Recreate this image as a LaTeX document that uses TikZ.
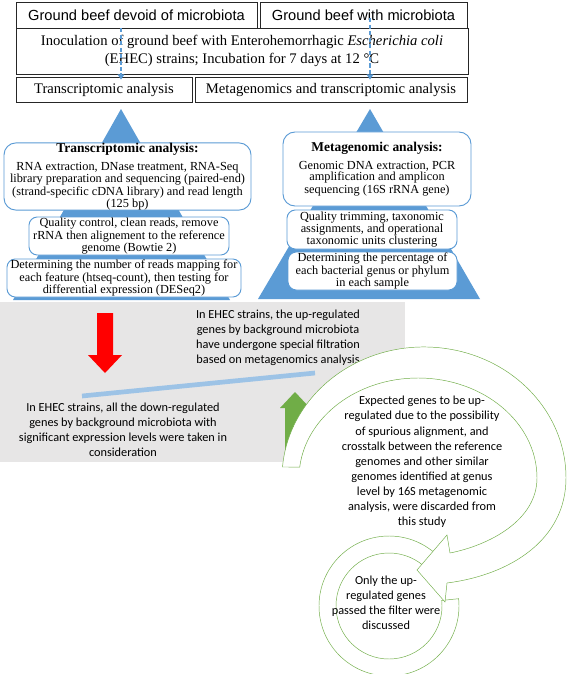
\documentclass[tikz,border=0pt]{standalone}
\usepackage{fontspec}
\setmainfont{Liberation Serif}
\newfontfamily\arialfont{Liberation Sans}
\newfontfamily\calibrifont{Carlito}
\usetikzlibrary{arrows.meta}
\definecolor{tri}{RGB}{91,155,213}
\definecolor{greybg}{RGB}{231,230,230}
\definecolor{barblue}{RGB}{157,195,230}
\definecolor{spiral}{RGB}{112,173,71}

\begin{document}
\begin{tikzpicture}[x=0.03cm, y=-0.03cm,
	topbox/.style={draw=black!85, line width=0.6pt, inner sep=0pt, minimum height=0.78cm, align=center, font=\fontsize{12.5}{15.4}\selectfont},
	rbox/.style={draw=tri, fill=white, thick, rounded corners=0.25cm, inner sep=0pt, align=center, font=\fontsize{10.5}{9.4}\selectfont},
	dasharrow/.style={tri, line width=1.2pt, dash pattern=on 3.5pt off 2pt, -{Triangle[width=5.5pt,length=4.5pt]}},
	calib/.style={align=center, font=\calibrifont\fontsize{10.5}{12.9}\selectfont}]
	\useasboundingbox (0,0) rectangle (567,674);
	\coordinate (apex1) at (121,109);
	\coordinate (apex2) at (370,109);
	\fill[tri] (apex1) -- (230,300) -- (13,300) -- cycle;
	\fill[tri] (apex2) -- (480,299) -- (258,299) -- cycle;
	\node[topbox, minimum width=7.23cm, font=\arialfont\fontsize{12.5}{14}\selectfont] (gb1) at (136.5,15) {Ground beef devoid of microbiota};
	\node[topbox, minimum width=6.21cm, font=\arialfont\fontsize{12.5}{14}\selectfont] (gb2) at (363.5,15) {Ground beef with microbiota};
	\node[topbox, minimum width=13.56cm, minimum height=1.38cm] (inoc) at (242,51) {Inoculation of ground beef with Enterohemorrhagic \textit{Escherichia coli}\\ (EHEC) strains; Incubation for 7 days at 12 °C};
	\node[topbox, minimum width=5.28cm, minimum height=0.75cm] (trans) at (104,89.5) {Transcriptomic analysis};
	\node[topbox, minimum width=8.16cm, minimum height=0.75cm] (meta) at (331,89.5) {Metagenomics and transcriptomic analysis};
	\draw[dasharrow] (gb1.south -| apex1) -- ([yshift=-0.09cm]trans.north -| apex1);
	\draw[dasharrow] ([yshift=0.3cm]gb2.south -| apex2) -- ([yshift=-0.09cm]meta.north -| apex2);
	\node[rbox, minimum width=7.41cm, minimum height=2.01cm, rounded corners=0.36cm] (ta) at (127.5,176.5) {{\fontsize{11.5}{12}\selectfont\bfseries Transcriptomic analysis:}\\[5pt] RNA extraction, DNase treatment, RNA-Seq\\ library preparation and sequencing (paired-end)\\ (strand-specific cDNA library) and read length\\ (125 bp)};
	\node[rbox, minimum width=6.0cm, minimum height=1.14cm] (tb) at (129,236) {Quality control, clean reads, remove\\ rRNA then alignement to the reference\\ genome (Bowtie 2)};
	\node[rbox, minimum width=7.02cm, minimum height=1.14cm] (tc) at (124,278) {Determining the number of reads mapping for\\ each feature (htseq-count), then testing for\\ differential expression (DESeq2)};
	\node[rbox, minimum width=5.64cm, minimum height=2.22cm, rounded corners=0.36cm] (ma) at (377,169) {{\fontsize{11.5}{12}\selectfont\bfseries Metagenomic analysis:}\\[5pt] Genomic DNA extraction, PCR\\ amplification and amplicon\\ sequencing (16S rRNA gene)};
	\node[rbox, minimum width=5.1cm, minimum height=1.17cm] (mb) at (372,229.5) {Quality trimming, taxonomic\\ assignments, and operational\\ taxonomic units clustering};
	\node[rbox, minimum width=5.07cm, minimum height=1.14cm] (mc) at (372.5,271) {Determining the percentage of\\ each bacterial genus or phylum\\ in each sample};
	\fill[greybg] (0,302) rectangle (405,462);
	\node[calib] (up) at (278,337.5) {In EHEC strains, the up-regulated\\ genes by background microbiota\\ have undergone special filtration\\ based on metagenomics analysis};
	\node[calib] (down) at (123,429.5) {In EHEC strains, all the down-regulated\\ genes by background microbiota with\\ significant expression levels were taken in\\ consideration};
	\fill[red] (97,313) -- (113,313) -- (113,355) -- (122,355) -- (105,373) -- (88,355) -- (97,355) -- cycle;
	\coordinate (bar1) at (82,396);
	\coordinate (bar2) at (315,373);
	\draw[barblue, line width=4pt] (bar1) -- (bar2);
	\fill[spiral] (285,460) -- (285,408) -- (280,408) -- (295,392) -- (310,408) -- (305,408) -- (305,460) -- cycle;
	\fill[white] (418,478) ellipse [x radius=119, y radius=100];
	\coordinate (ringc) at (389,606);
	\draw[spiral, fill=white] (ringc) ++(-50:70) arc[start angle=-50, end angle=-366, radius=70] -- ++(174:17) arc[start angle=-366, end angle=-50, radius=53] -- cycle;
	\draw[spiral, fill=white] (282.5,467) arc[start angle=184.8, end angle=360, x radius=142, y radius=131]
		.. controls (566,540) and (510,575) .. (447,583) -- (445,602) -- (417,570) -- (447,535) -- (450,553)
		.. controls (490,545) and (537,520) .. (537,478)
		arc[start angle=0, end angle=-173.7, x radius=119, y radius=100] -- cycle;
	\node[calib] (expected) at (422,462) {Expected genes to be up-\\ regulated due to the possibility\\ of spurious alignment, and\\ crosstalk between the reference\\ genomes and other similar\\ genomes identified at genus\\ level by 16S metagenomic\\ analysis, were discarded from\\ this study};
	\node[calib] (only) at (386,602.5) {Only the up-\\ regulated genes\\ passed the filter were\\ discussed};
\end{tikzpicture}
\end{document}
